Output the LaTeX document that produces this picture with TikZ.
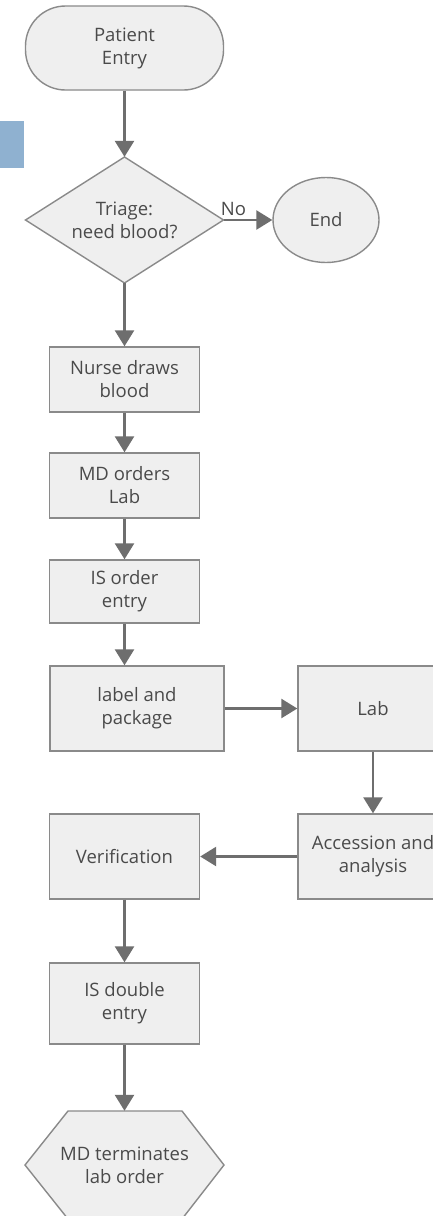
\documentclass[tikz,border=0pt]{standalone}
\usepackage{fontspec}
\setmainfont{Open Sans}
\usetikzlibrary{shapes.geometric,arrows.meta}
\definecolor{boxfill}{HTML}{EFEFEF}
\definecolor{boxline}{HTML}{8A8A8A}
\definecolor{flow}{HTML}{6E6E6E}
\definecolor{ink}{HTML}{4A4A4A}
\definecolor{tab}{HTML}{8FB1D0}
\tikzset{
  labeltext/.style={text=ink, font=\fontsize{18.5}{23}\selectfont, align=center, inner sep=0pt},
  outline/.style={draw=boxline, line width=1.4pt, fill=boxfill},
  shapebase/.style={labeltext, outline},
  procbox/.style={shapebase, rectangle, minimum width=150pt, minimum height=65pt},
  flowline/.style={draw=flow, line width=2.6pt, -{Triangle[width=19pt,length=16pt]}},
}
\begin{document}
\begin{tikzpicture}[x=1pt,y=-1pt]
\useasboundingbox[fill=white] (0,0) rectangle (433,1216);
% side tab
\fill[tab] (0,121) rectangle (24,168);
% terminals and decision
\node[shapebase, rectangle, rounded corners=40pt, minimum width=198pt, minimum height=84pt] (entry) at (124.5,48) {Patient\\Entry};
\draw[outline] (25.5,220) -- (124.5,157) -- (223.5,220) -- (124.5,283) -- cycle;
\node[labeltext, minimum width=198pt, minimum height=126pt] (triage) at (124.5,220) {Triage:\\need blood?};
\node[shapebase, ellipse, minimum width=106pt, minimum height=85pt] (end) at (326,220) {End};
% process steps
\node[procbox] (nurse) at (124.5,379.5) {Nurse draws\\blood};
\node[procbox] (order) at (124.5,485.5) {MD orders\\Lab};
\node[procbox, minimum height=63pt] (isorder) at (124.5,591.5) {IS order\\entry};
\node[procbox, minimum width=174pt, minimum height=85pt] (pack) at (137,708.5) {label and\\package};
\node[procbox, minimum height=85pt] (lab) at (373,708.5) {Lab};
\node[procbox, minimum height=85pt] (acc) at (373,856.5) {Accession and\\analysis};
\node[procbox, minimum height=85pt] (verif) at (124.5,856.5) {Verification};
\node[procbox, minimum height=81pt] (dbl) at (124.5,1003.5) {IS double\\entry};
% final step as hexagon
\draw[outline]
  (25,1165) -- (68,1111) -- (182,1111) -- (224,1165) -- (182,1219) -- (68,1219) -- cycle;
\node[labeltext, minimum width=199pt, minimum height=108pt] (term) at (124.5,1165) {MD terminates\\lab order};
% connectors
\draw[flowline] (entry) -- (triage);
\draw[flowline] (triage.east) -- node[pos=0.2, above, labeltext, yshift=3pt] {No} (end.west);
\draw[flowline] (triage.south) -- (nurse.north);
\draw[flowline] (nurse) -- (order);
\draw[flowline] (order) -- (isorder);
\draw[flowline] (isorder.south) -- (isorder.south |- pack.north);
\draw[flowline] (pack) -- (lab);
\draw[flowline] (lab) -- (acc);
\draw[flowline] (acc) -- (verif);
\draw[flowline] (verif) -- (dbl);
\draw[flowline] (dbl.south) -- (term.north);
\end{tikzpicture}
\end{document}
